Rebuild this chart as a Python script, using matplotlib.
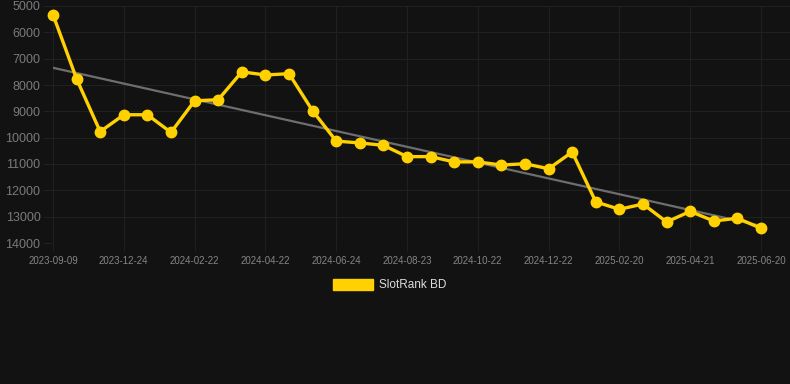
import matplotlib
matplotlib.use("Agg")
import matplotlib.pyplot as plt
import matplotlib.patches as mpatches
import numpy as np

# rank values, one per sample (y axis is inverted: lower rank is better)
ranks = [5330, 7770, 9770, 9130, 9130, 9800, 8600, 8560, 7500, 7620,
         7570, 8980, 10130, 10200, 10290, 10720, 10720, 10920, 10920, 11040,
         10990, 11180, 10545, 12440, 12720, 12520, 13200, 12800, 13165, 13060,
         13440]
tick_labels = ["2023-09-09", "2023-12-24", "2024-02-22", "2024-04-22",
               "2024-06-24", "2024-08-23", "2024-10-22", "2024-12-22",
               "2025-02-20", "2025-04-21", "2025-06-20"]
y_ticks = [5000, 6000, 7000, 8000, 9000, 10000, 11000, 12000, 13000, 14000]
series_name = "SlotRank BD"

BG = "#121212"
GRID = "#202020"
GOLD = "#FFD100"

plt.rcParams["font.family"] = ["Liberation Sans", "DejaVu Sans"]

fig = plt.figure(figsize=(7.9, 3.84), dpi=100, facecolor=BG)
W, H = 790, 384
ax = fig.add_axes([53 / W, 141 / H, 737 / W, 237 / H], facecolor=BG)

x = np.arange(len(ranks))
y = np.array(ranks, dtype=float)

# trend line (least squares)
k, b = np.polyfit(x, y, 1)
ax.plot(x, k * x + b, color="#6e6e6e", lw=1.6, zorder=2)

ax.plot(x, y, color=GOLD, lw=2.4, marker="o", markersize=7.5,
        markerfacecolor=GOLD, markeredgecolor=GOLD, zorder=3, clip_on=False)

ax.set_xlim(0, 30 * 737 / 708)
ax.set_ylim(14000, 5000)
ax.set_yticks(y_ticks)
ax.set_yticklabels([str(v) for v in y_ticks])
ax.set_xticks(x[::3])
ax.set_xticklabels(tick_labels)

ax.grid(True, color=GRID, lw=0.8)
ax.set_axisbelow(True)
for s in ax.spines.values():
    s.set_visible(False)
ax.tick_params(axis="y", colors=GRID, labelcolor="#7a7a7a", labelsize=9,
               length=7, width=0.8, pad=2)
ax.tick_params(axis="x", colors=GRID, labelcolor="#858585", labelsize=7,
               length=6, width=0.8, pad=3)

# legend
fig.patches.append(mpatches.Rectangle((333 / W, (384 - 290) / H), 40 / W, 11 / H,
                                      transform=fig.transFigure, facecolor=GOLD,
                                      edgecolor=GOLD, figure=fig))
fig.text(379 / W, (384 - 284.5) / H, series_name, color="#dddddd",
         fontsize=8.5, va="center", ha="left")

fig.savefig("out.png", dpi=100, facecolor=BG)
